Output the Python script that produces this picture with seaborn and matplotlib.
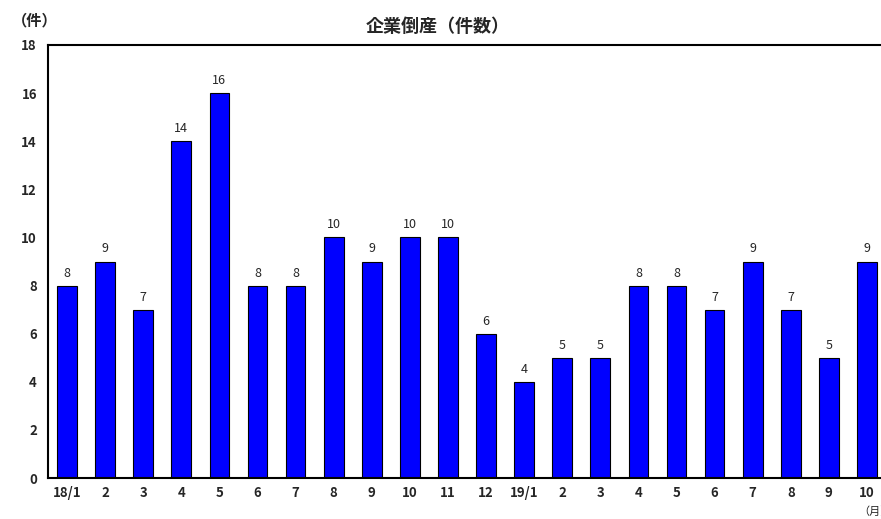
import matplotlib
matplotlib.use("Agg")
import matplotlib.pyplot as plt
import seaborn as sns
import pandas as pd

months = ["18/1", "2", "3", "4", "5", "6", "7", "8", "9", "10", "11", "12",
          "19/1", "2", "3", "4", "5", "6", "7", "8", "9", "10"]
counts = [8, 9, 7, 14, 16, 8, 8, 10, 9, 10, 10, 6,
          4, 5, 5, 8, 8, 7, 9, 7, 5, 9]

df = pd.DataFrame({"pos": range(len(counts)), "count": counts})

sns.set_style("white")
plt.rcParams['font.family'] = ['Noto Sans CJK JP', 'DejaVu Sans']

fig = plt.figure(figsize=(8.81, 5.19), dpi=100)
ax = fig.add_axes([48 / 881, 41 / 519, 838 / 881, 433 / 519])

sns.barplot(data=df, x="pos", y="count", color="#0000FF", saturation=1,
            width=0.52, edgecolor="black", linewidth=0.8, ax=ax)

for i, v in enumerate(counts):
    ax.text(i, v + 0.25, str(v), ha="center", va="bottom", fontsize=9)

ax.set_xlim(-0.5, len(counts) - 0.5)
ax.set_ylim(0, 18)
ax.set_yticks(range(0, 19, 2))
ax.set_yticklabels([str(t) for t in range(0, 19, 2)], fontsize=9.5, fontweight="bold")
ax.set_xticks(range(len(months)))
ax.set_xticklabels(months, fontsize=9.5, fontweight="bold")
ax.set_xticks([i + 0.5 for i in range(len(months))], minor=True)
ax.tick_params(axis="x", which="major", length=0, pad=6)
ax.tick_params(axis="x", which="minor", direction="in", length=3, width=0.8)
ax.tick_params(axis="y", direction="in", length=3, width=0.8, pad=8)
ax.set_xlabel("")
ax.set_ylabel("")

for side in ["left", "bottom", "top"]:
    ax.spines[side].set_visible(True)
    ax.spines[side].set_color("black")
    ax.spines[side].set_linewidth(1.5)
ax.spines["right"].set_visible(False)

fig.text(438 / 881, 1 - 27 / 519, "企業倒産（件数）", ha="center", va="center",
         fontsize=13, fontweight="bold")
fig.text(12 / 881, 1 - 20 / 519, "（件）", ha="left", va="center",
         fontsize=11, fontweight="bold")
fig.text(858 / 881, 1 - 512 / 519, "（月）", ha="left", va="center", fontsize=8)

fig.savefig("out.png", dpi=100)
